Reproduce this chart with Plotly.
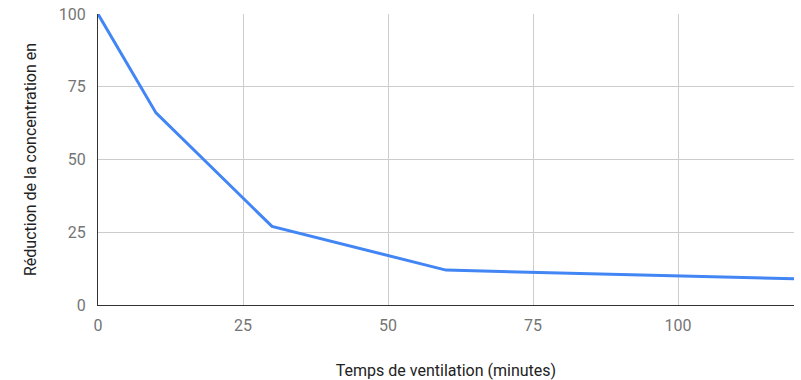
import plotly.graph_objects as go

# Ventilation time (minutes) and remaining concentration
temps_min = [0, 10, 30, 60, 120]
reduction = [100, 66, 27, 12, 9]

x_ticks = [0, 25, 50, 75, 100]
y_ticks = [0, 25, 50, 75, 100]

fig = go.Figure()
fig.add_trace(go.Scatter(
    x=temps_min, y=reduction, mode="lines",
    line=dict(color="#4285F4", width=3),
    hoverinfo="x+y",
))

fig.update_layout(
    width=801, height=380,
    margin=dict(l=98, r=7, t=14, b=75),
    paper_bgcolor="white", plot_bgcolor="white",
    font=dict(family="Roboto", size=16, color="#757575"),
    showlegend=False,
    xaxis=dict(
        range=[0, 120], tickvals=x_ticks, ticktext=[str(v) for v in x_ticks],
        showgrid=True, gridcolor="#cccccc", gridwidth=1,
        zeroline=False, showline=True, linecolor="#333333", linewidth=1,
        ticks="outside", ticklen=6, tickcolor="rgba(0,0,0,0)",
        automargin=False,
        title=dict(text="Temps de ventilation (minutes)",
                   font=dict(family="Roboto", size=16, color="#222222"),
                   standoff=30),
    ),
    yaxis=dict(
        range=[0, 100], tickvals=y_ticks, ticktext=[str(v) for v in y_ticks],
        showgrid=True, gridcolor="#cccccc", gridwidth=1,
        zeroline=False, showline=True, linecolor="#333333", linewidth=1,
        ticks="outside", ticklen=8, tickcolor="rgba(0,0,0,0)",
        automargin=False,
        title=dict(text="Réduction de la concentration en",
                   font=dict(family="Roboto", size=16, color="#222222"),
                   standoff=18),
    ),
)

fig.write_html("out.html")
